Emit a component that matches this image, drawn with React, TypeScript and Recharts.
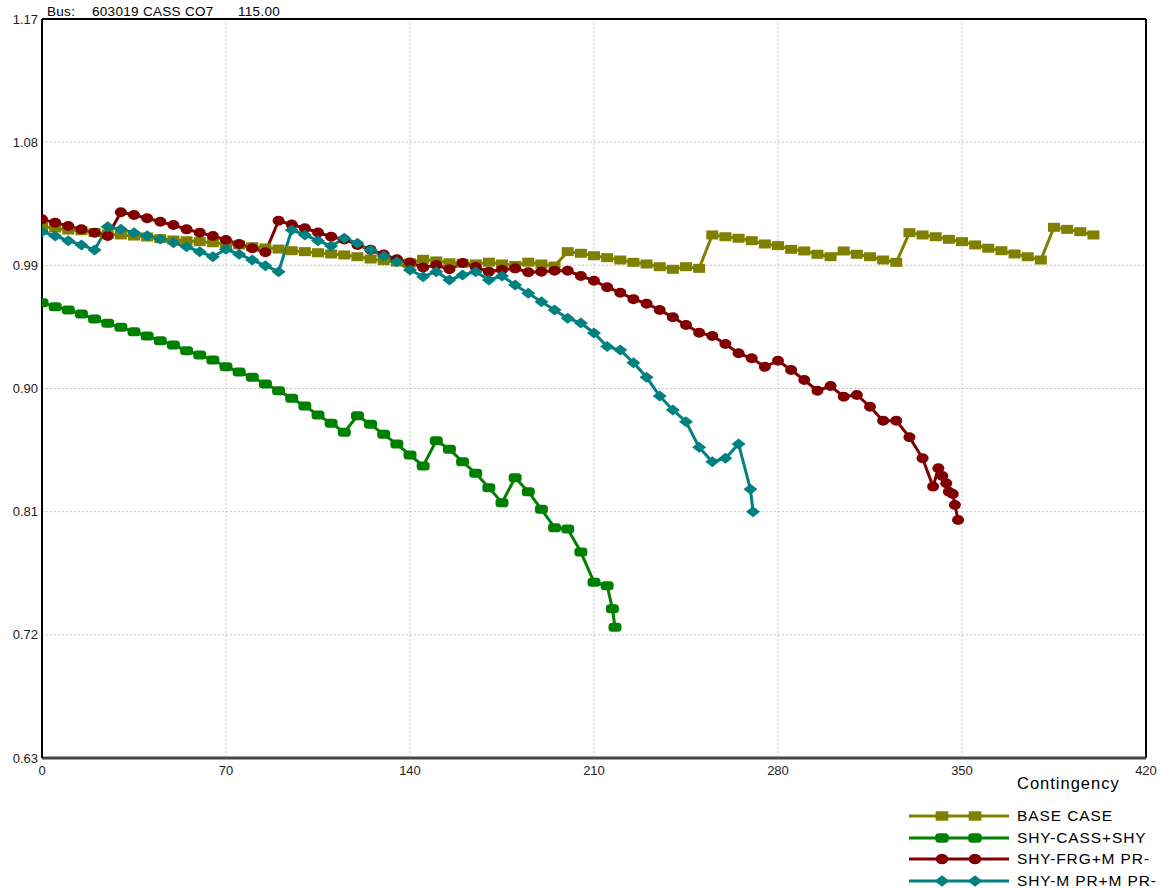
import React from "react";
import { LineChart, Line, XAxis, YAxis, CartesianGrid, ReferenceLine } from "recharts";

const X_TICKS = [0, 70, 140, 210, 280, 350, 420];
const Y_TICKS = [0.63, 0.72, 0.81, 0.9, 0.99, 1.08, 1.17];

// contingency numbers per series
const baseX = [
  0, 5, 10, 15, 20, 25, 30, 35, 40, 45, 50, 55, 60, 65, 70, 75, 80, 85, 90, 95,
  100, 105, 110, 115, 120, 125, 130, 135, 140, 145, 150, 155, 160, 165, 170, 175, 180, 185, 190, 195,
  200, 205, 210, 215, 220, 225, 230, 235, 240, 245, 250, 255, 260, 265, 270, 275, 280, 285, 290, 295,
  300, 305, 310, 315, 320, 325, 330, 335, 340, 345, 350, 355, 360, 365, 370, 375, 380, 385, 390, 395, 400,
];
const baseV = [
  1.0182, 1.0173, 1.0158, 1.0153, 1.0139, 1.0129, 1.0122, 1.0114, 1.0107, 1.0095,
  1.0085, 1.008, 1.0073, 1.0065, 1.0056, 1.0049, 1.0036, 1.0027, 1.0019, 1.0007,
  1.0, 0.9992, 0.9983, 0.9976, 0.9963, 0.9946, 0.9934, 0.9924, 0.9917, 0.9944,
  0.9932, 0.9919, 0.9915, 0.991, 0.9923, 0.991, 0.9899, 0.9923, 0.991, 0.9895,
  1.0, 0.9988, 0.997, 0.9956, 0.9939, 0.9922, 0.991, 0.989, 0.9871, 0.989,
  0.9878, 1.0122, 1.0109, 1.0098, 1.008, 1.0056, 1.0044, 1.0017, 1.0005, 0.9981,
  0.9963, 1.0005, 0.9981, 0.9963, 0.9939, 0.9922, 1.0139, 1.0122, 1.0109, 1.009,
  1.0073, 1.0049, 1.0025, 1.0007, 0.9983, 0.9963, 0.9939, 1.0178, 1.0163, 1.0146,
  1.0122,
];

const cassX = [
  0, 5, 10, 15, 20, 25, 30, 35, 40, 45, 50, 55, 60, 65, 70, 75, 80, 85, 90, 95,
  100, 105, 110, 115, 120, 125, 130, 135, 140, 145, 150, 155, 160, 165, 170, 175, 180, 185, 190, 195,
  200, 205, 210, 215, 217, 218,
];
const cassV = [
  0.9627, 0.9598, 0.9574, 0.9544, 0.9508, 0.9476, 0.9447, 0.9415, 0.9384, 0.9349,
  0.9318, 0.9276, 0.9245, 0.9208, 0.9159, 0.9121, 0.9082, 0.9033, 0.8984, 0.8928,
  0.8872, 0.8806, 0.8746, 0.868, 0.8801, 0.8738, 0.8665, 0.8594, 0.8514, 0.8434,
  0.8619, 0.8556, 0.8465, 0.838, 0.8275, 0.8166, 0.8348, 0.8246, 0.8117, 0.7983,
  0.7973, 0.7805, 0.7584, 0.7559, 0.7391, 0.7255,
];

const frgX = [
  0, 5, 10, 15, 20, 25, 30, 35, 40, 45, 50, 55, 60, 65, 70, 75, 80, 85, 90, 95,
  100, 105, 110, 115, 120, 125, 130, 135, 140, 145, 150, 155, 160, 165, 170, 175, 180, 185, 190, 195,
  200, 205, 210, 215, 220, 225, 230, 235, 240, 245, 250, 255, 260, 265, 270, 275, 280, 285, 290, 295,
  300, 305, 310, 315, 320, 325, 330, 335, 339, 341, 342.5, 344, 345, 346.5, 347.3, 348.5,
];
const frgV = [
  1.0236, 1.0212, 1.0187, 1.0163, 1.0139, 1.0114, 1.0288, 1.0268, 1.0244, 1.0219,
  1.0195, 1.0163, 1.0139, 1.0114, 1.0085, 1.0056, 1.0025, 0.9996, 1.0226, 1.0198,
  1.0171, 1.014, 1.0109, 1.0089, 1.0049, 1.0014, 0.9979, 0.9944, 0.9921, 0.9884,
  0.9902, 0.9871, 0.9917, 0.9888, 0.9854, 0.9868, 0.9878, 0.985, 0.9854, 0.9861,
  0.9861, 0.9822, 0.9788, 0.974, 0.97, 0.9653, 0.962, 0.9574, 0.952, 0.9464,
  0.9408, 0.9384, 0.9325, 0.9257, 0.9221, 0.9159, 0.9203, 0.9135, 0.9062, 0.8984,
  0.9018, 0.894, 0.8953, 0.8867, 0.8765, 0.8765, 0.8644, 0.849, 0.8283, 0.8417,
  0.8361, 0.8307, 0.8246, 0.8229, 0.8149, 0.8039,
];

const mprX = [
  0, 5, 10, 15, 20, 25, 30, 35, 40, 45, 50, 55, 60, 65, 70, 75, 80, 85, 90, 95,
  100, 105, 110, 115, 120, 125, 130, 135, 140, 145, 150, 155, 160, 165, 170, 175, 180, 185, 190, 195,
  200, 205, 210, 215, 220, 225, 230, 235, 240, 245, 250, 255, 260, 265, 269.5, 270.5,
];
const mprV = [
  1.0146, 1.0114, 1.008, 1.0049, 1.0012, 1.0182, 1.0163, 1.0139, 1.0117, 1.0092,
  1.0065, 1.0036, 1.0, 0.9963, 1.0017, 0.9981, 0.9939, 0.9897, 0.9854, 1.0158,
  1.0122, 1.008, 1.0041, 1.0098, 1.0061, 1.0012, 0.9968, 0.9927, 0.9866, 0.9817,
  0.9854, 0.9793, 0.9829, 0.9854, 0.9793, 0.9822, 0.9756, 0.9696, 0.9634, 0.9574,
  0.9513, 0.9479, 0.9406, 0.9306, 0.9281, 0.9189, 0.9082, 0.8945, 0.8843, 0.8757,
  0.857, 0.8465, 0.849, 0.8595, 0.8264, 0.81,
];

const zip = (xs: number[], vs: number[]) => xs.map((x, i) => ({ x, v: vs[i] }));

type Shape = "square" | "pill" | "circle" | "diamond";

const SERIES: { name: string; color: string; shape: Shape; data: { x: number; v: number }[] }[] = [
  { name: "BASE CASE", color: "#808000", shape: "square", data: zip(baseX, baseV) },
  { name: "SHY-CASS+SHY", color: "#008000", shape: "pill", data: zip(cassX, cassV) },
  { name: "SHY-FRG+M PR-", color: "#800000", shape: "circle", data: zip(frgX, frgV) },
  { name: "SHY-M PR+M PR-", color: "#008080", shape: "diamond", data: zip(mprX, mprV) },
];

const FONT = "'Liberation Sans', Arial, sans-serif";

function shapeEl(shape: Shape, cx: number, cy: number, color: string, s = 1) {
  if (shape === "square") return <rect x={cx - 6 * s} y={cy - 4.5 * s} width={12 * s} height={9 * s} fill={color} />;
  if (shape === "pill") return <rect x={cx - 6.5 * s} y={cy - 4.5 * s} width={13 * s} height={9 * s} rx={3.5 * s} fill={color} />;
  if (shape === "circle") return <ellipse cx={cx} cy={cy} rx={6 * s} ry={5 * s} fill={color} />;
  return (
    <polygon
      points={`${cx - 7 * s},${cy} ${cx},${cy - 5.5 * s} ${cx + 7 * s},${cy} ${cx},${cy + 5.5 * s}`}
      fill={color}
    />
  );
}

function Marker(props: any) {
  const { cx, cy, shape, color } = props;
  if (cx == null || cy == null) return null;
  return shapeEl(shape, cx, cy, color);
}

function LegendBox() {
  return (
    <div style={{ position: "absolute", left: 905, top: 805, width: 257, fontFamily: FONT }}>
      {SERIES.map((s) => (
        <div key={s.name} style={{ display: "flex", alignItems: "center", height: 21.7 }}>
          <svg width={108} height={20} style={{ flexShrink: 0 }}>
            <line x1={4} y1={10} x2={104} y2={10} stroke={s.color} strokeWidth={3} />
            {shapeEl(s.shape, 37, 10, s.color, 1.05)}
            {shapeEl(s.shape, 70, 10, s.color, 1.05)}
          </svg>
          <span style={{ fontSize: 15.5, letterSpacing: 0.9, color: "#000", marginLeft: 4, whiteSpace: "pre" }}>{s.name}</span>
        </div>
      ))}
    </div>
  );
}

const titleStyle: React.CSSProperties = {
  position: "absolute",
  top: 4,
  fontFamily: FONT,
  fontSize: 13.5,
  letterSpacing: 0.3,
  whiteSpace: "pre",
  color: "#000",
};

export default function App() {
  return (
    <div style={{ position: "absolute", left: 0, top: 0, width: 1162, height: 888, background: "#fff", overflow: "hidden" }}>
      <div style={{ ...titleStyle, left: 47 }}>Bus:</div>
      <div style={{ ...titleStyle, left: 92 }}>603019 CASS CO7</div>
      <div style={{ ...titleStyle, left: 238 }}>115.00</div>
      <LineChart width={1162} height={888} margin={{ top: 19, right: 16, bottom: 110, left: 0 }}>
        <CartesianGrid stroke="#c4c4c4" strokeDasharray="2 2" />
        <XAxis
          type="number"
          dataKey="x"
          domain={[0, 420]}
          ticks={X_TICKS}
          height={20}
          tickSize={0}
          tickMargin={8}
          axisLine={{ stroke: "#444", strokeWidth: 3 }}
          tick={{ fill: "#222", fontSize: 13, fontFamily: FONT }}
          allowDataOverflow
        />
        <YAxis
          type="number"
          domain={[0.63, 1.17]}
          ticks={Y_TICKS}
          width={42}
          tickSize={0}
          tickMargin={4}
          tickFormatter={(v: number) => v.toFixed(2)}
          axisLine={{ stroke: "#000", strokeWidth: 2 }}
          tick={{ fill: "#222", fontSize: 13, fontFamily: FONT }}
          allowDataOverflow
        />
        <ReferenceLine y={1.17} stroke="#000" strokeWidth={2} />
        <ReferenceLine x={420} stroke="#000" strokeWidth={2} />
        {SERIES.map((s) => (
          <Line
            key={s.name}
            data={s.data}
            dataKey="v"
            name={s.name}
            stroke={s.color}
            strokeWidth={3}
            dot={<Marker shape={s.shape} color={s.color} />}
            activeDot={false}
            isAnimationActive={false}
          />
        ))}
      </LineChart>
      <div style={{ position: "absolute", left: 1017, top: 774, fontFamily: FONT, fontSize: 16.5, letterSpacing: 1, color: "#000" }}>
        Contingency
      </div>
      <LegendBox />
    </div>
  );
}
